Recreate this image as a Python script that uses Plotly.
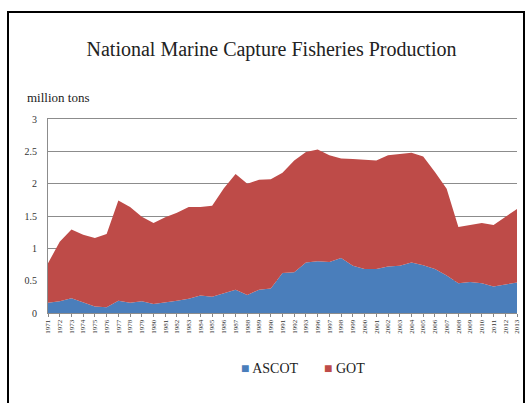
import plotly.graph_objects as go

years = ["1971", "1972", "1973", "1974", "1975", "1976", "1977", "1978", "1979", "1980",
         "1981", "1982", "1983", "1984", "1985", "1986", "1987", "1988", "1989", "1990",
         "1991", "1992", "1993", "1996", "1997", "1998", "1999", "2000", "2001", "2002",
         "2003", "2004", "2005", "2006", "2007", "2008", "2009", "2010", "2011", "2012", "2013"]

total = [0.77, 1.10, 1.29, 1.21, 1.16, 1.22, 1.74, 1.64, 1.49, 1.39,
         1.48, 1.55, 1.64, 1.64, 1.66, 1.93, 2.15, 2.00, 2.06, 2.07,
         2.17, 2.36, 2.49, 2.53, 2.44, 2.39, 2.38, 2.37, 2.36, 2.44,
         2.46, 2.48, 2.42, 2.18, 1.92, 1.33, 1.36, 1.39, 1.36, 1.48, 1.61]

ascot = [0.16, 0.18, 0.23, 0.16, 0.10, 0.09, 0.19, 0.16, 0.18, 0.14,
         0.16, 0.19, 0.22, 0.27, 0.25, 0.31, 0.36, 0.28, 0.36, 0.38,
         0.62, 0.63, 0.78, 0.80, 0.79, 0.85, 0.73, 0.68, 0.68, 0.72,
         0.73, 0.78, 0.74, 0.68, 0.58, 0.46, 0.48, 0.46, 0.41, 0.44, 0.47]

got = [round(t - a, 3) for t, a in zip(total, ascot)]

y_ticks = [0, 0.5, 1, 1.5, 2, 2.5, 3]
y_labels = ["0", "0.5", "1", "1.5", "2", "2.5", "3"]

BLUE = "#4A7EBB"
RED = "#BE4B48"
SERIF = "Liberation Serif, Times New Roman, serif"

fig = go.Figure()
fig.add_trace(go.Scatter(x=years, y=ascot, name="ASCOT", stackgroup="one",
                         mode="lines", line=dict(width=0, color=BLUE),
                         fillcolor=BLUE, showlegend=False))
fig.add_trace(go.Scatter(x=years, y=got, name="GOT", stackgroup="one",
                         mode="lines", line=dict(width=0, color=RED),
                         fillcolor=RED, showlegend=False))

fig.update_layout(
    width=532, height=403,
    margin=dict(l=48, r=15, t=119, b=90),
    paper_bgcolor="white", plot_bgcolor="white",
    font=dict(family=SERIF, color="#222222"),
    title=dict(text="National Marine Capture Fisheries Production",
               x=271.5 / 532, xref="container", xanchor="center",
               y=1 - 49 / 403, yanchor="middle",
               font=dict(family=SERIF, size=20, color="#222222")),
    xaxis=dict(type="category", range=[0, len(years) - 1],
               showgrid=False, showline=True, mirror=True,
               linecolor="#8C8C8C", linewidth=1,
               ticks="outside", ticklen=3, tickcolor="#868686",
               tickangle=-90, tickfont=dict(family=SERIF, size=7, color="#333333")),
    yaxis=dict(range=[0, 3], tickvals=y_ticks, ticktext=y_labels,
               showgrid=True, gridcolor="#8C8C8C", gridwidth=1,
               showline=True, linecolor="#8C8C8C", linewidth=1,
               zeroline=False, ticks="", ticklabelstandoff=8,
               tickfont=dict(family=SERIF, size=10, color="#333333")),
    showlegend=False,
)

# axis unit label
fig.add_annotation(text="million tons", xref="paper", yref="paper",
                   x=(25 - 48) / 469, y=(313 - 97) / 194, xanchor="left", yanchor="middle",
                   showarrow=False, font=dict(family=SERIF, size=13, color="#222222"))

# legend
fig.add_annotation(text=f"<span style='color:{BLUE}'>■</span> ASCOT", xref="paper", yref="paper",
                   x=(239 - 48) / 469, y=(313 - 368) / 194, xanchor="left", yanchor="middle",
                   showarrow=False, font=dict(family=SERIF, size=14, color="#222222"))
fig.add_annotation(text=f"<span style='color:{RED}'>■</span> GOT", xref="paper", yref="paper",
                   x=(322 - 48) / 469, y=(313 - 368) / 194, xanchor="left", yanchor="middle",
                   showarrow=False, font=dict(family=SERIF, size=14, color="#222222"))

# outer frame
fig.add_shape(type="rect", xref="paper", yref="paper",
              x0=(8 - 48) / 469, x1=(524 - 48) / 469,
              y0=(313 - 420) / 194, y1=(313 - 12) / 194,
              line=dict(color="black", width=2), fillcolor="rgba(0,0,0,0)", layer="above")

fig.write_html("out.html", config={"displayModeBar": False},
               post_script="document.body.style.margin='0px';")
